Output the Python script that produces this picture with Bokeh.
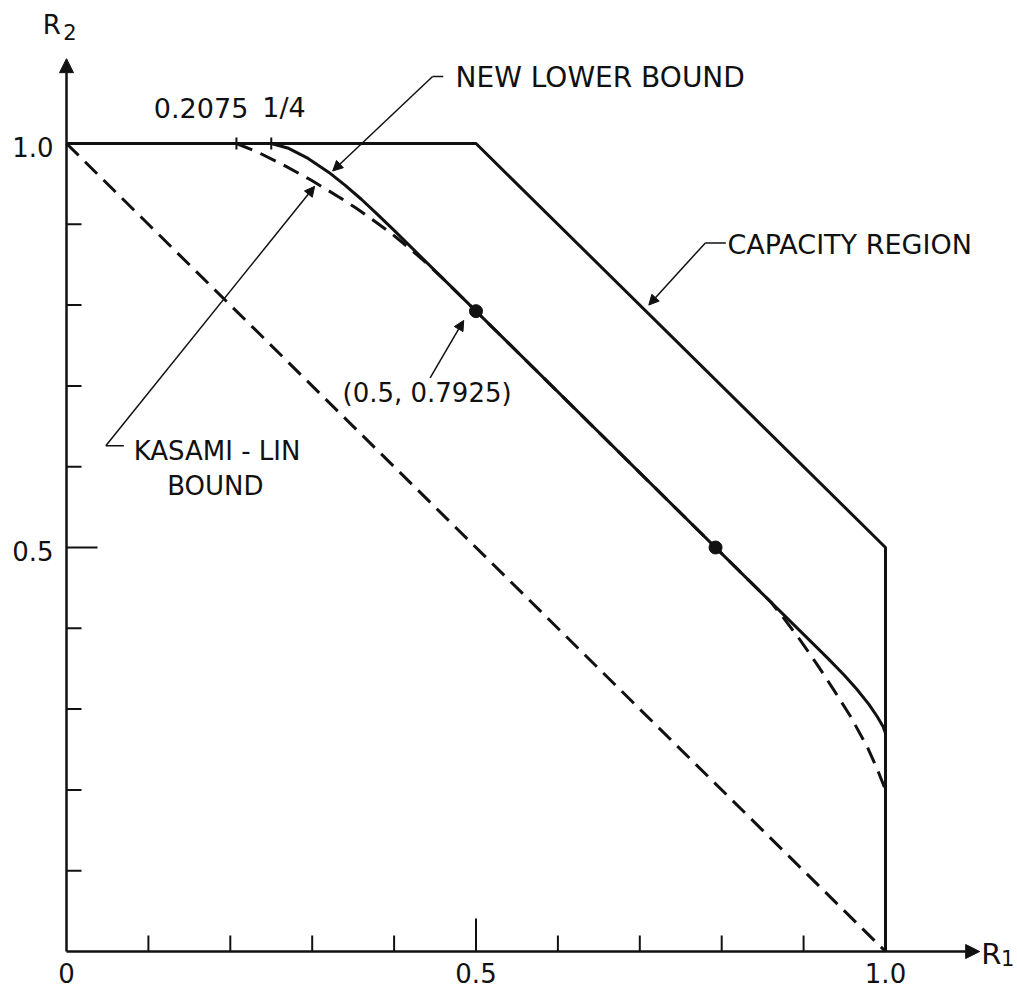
from bokeh.plotting import figure
from bokeh.models import Arrow, NormalHead
from bokeh.core.properties import value
from bokeh.embed import file_html
from bokeh.resources import INLINE

# ---------------- data ----------------
# capacity region boundary
cap_r1 = [0.0, 0.5, 1.0, 1.0]
cap_r2 = [1.0, 1.0, 0.5, 0.0]

# time-sharing line (dashed)
ts_r1 = [0.0, 1.0]
ts_r2 = [1.0, 0.0]

# Kasami-Lin bound (dashed curve)
kl_r1 = [0.2075, 0.231, 0.263, 0.299, 0.333, 0.353, 0.378, 0.398, 0.422, 0.44, 0.46,
         0.86, 0.875, 0.893, 0.917, 0.937, 0.957, 0.978, 0.99, 1.0]
kl_r2 = [1.0, 0.9905, 0.9745, 0.9545, 0.9335, 0.9205, 0.9025, 0.8875, 0.8675, 0.8515, 0.8325,
         0.4325, 0.4135, 0.3895, 0.3545, 0.3235, 0.2915, 0.2525, 0.2255, 0.2]

# new lower bound (solid curve)
nlb_r1 = [0.25, 0.27, 0.295, 0.32, 0.34, 0.36, 0.38, 0.40,
          0.93, 0.95, 0.965, 0.98, 0.99, 0.997, 1.0]
nlb_r2 = [1.0, 0.9945, 0.9815, 0.9645, 0.9485, 0.931, 0.912, 0.8925,
          0.3625, 0.3415, 0.3245, 0.3055, 0.2905, 0.2785, 0.27]

# marked points
pts_r1 = [0.5, 0.7925]
pts_r2 = [0.7925, 0.5]

# ticks on the R2 = 1 edge
top_ticks = [0.2075, 0.25]
top_tick_labels = ["0.2075", "1/4"]

# axis ticks
x_major = [0.5]
x_minor = [0.1, 0.2, 0.3, 0.4, 0.6, 0.7, 0.8, 0.9]
y_major = [0.5]
y_minor = [0.1, 0.2, 0.3, 0.4, 0.6, 0.7, 0.8, 0.9]
x_tick_vals = [0.0, 0.5, 1.0]
x_tick_labels = ["0", "0.5", "1.0"]
y_tick_vals = [1.0, 0.5]
y_tick_labels = ["1.0", "0.5"]

# ---------------- layout ----------------
W, H = 1017, 990
PX0, PY0 = 66, 951      # canvas position of the origin
SX, SY = 819.0, 808.0   # pixels per unit
FONT = value("DejaVu Sans")
INK = "#111111"

p = figure(width=W, height=H,
           x_range=(-PX0 / SX, (W - PX0) / SX),
           y_range=(-(H - PY0) / SY, PY0 / SY),
           output_backend="svg", toolbar_location=None,
           x_axis_location=None, y_axis_location=None,
           min_border=0, outline_line_color=None,
           background_fill_color="white", border_fill_color="white")
p.grid.visible = False


def label(x, y, txt, size, align="left"):
    p.text(x=[x], y=[y], text=[txt], text_font=FONT, text_font_size=size,
           text_align=align, text_baseline="middle", text_color=INK)


# axes with arrows
p.add_layout(Arrow(x_start=0, y_start=0, x_end=1.115, y_end=0, line_width=2.5, line_color=INK,
                   end=NormalHead(size=14, fill_color=INK, line_color=INK)))
p.add_layout(Arrow(x_start=0, y_start=0, x_end=0, y_end=1.105, line_width=2.5, line_color=INK,
                   end=NormalHead(size=14, fill_color=INK, line_color=INK)))

# ticks (pointing inward)
p.segment(x0=x_minor, y0=[0] * len(x_minor), x1=x_minor, y1=[16 / SY] * len(x_minor),
          line_width=2, line_color=INK)
p.segment(x0=x_major, y0=[0] * len(x_major), x1=x_major, y1=[33 / SY] * len(x_major),
          line_width=2, line_color=INK)
p.segment(x0=[0] * len(y_minor), y0=y_minor, x1=[15 / SX] * len(y_minor), y1=y_minor,
          line_width=2, line_color=INK)
p.segment(x0=[0] * len(y_major), y0=y_major, x1=[31 / SX] * len(y_major), y1=y_major,
          line_width=2, line_color=INK)

# tick labels
p.text(x=x_tick_vals, y=[-21 / SY] * 3, text=x_tick_labels, text_font=FONT,
       text_font_size="26px", text_align="center", text_baseline="middle", text_color=INK)
p.text(x=[-13 / SX] * 2, y=y_tick_vals, text=y_tick_labels, text_font=FONT,
       text_font_size="26px", text_align="right", text_baseline="middle", text_color=INK,
       y_offset=3)

# axis names
label(-0.029, 1.147, "R", "26px")
label(-0.004, 1.138, "2", "21px")
label(1.117, -0.003, "R", "29px")
label(1.141, -0.008, "1", "21px")

# curves
p.line(ts_r1, ts_r2, line_width=3, line_dash="17 9", line_color=INK)
p.line(kl_r1, kl_r2, line_width=3, line_dash="17 9", line_color=INK)
p.line(cap_r1, cap_r2, line_width=3, line_color=INK)
p.line(nlb_r1, nlb_r2, line_width=3, line_color=INK)
p.scatter(pts_r1, pts_r2, size=13, color=INK)

# small ticks on the top edge
p.segment(x0=top_ticks, y0=[1 - 6 / SY] * 2, x1=top_ticks, y1=[1 + 6 / SY] * 2,
          line_width=2, line_color=INK)
label(0.222, 1.044, top_tick_labels[0], "27px", "right")
label(0.239, 1.044, top_tick_labels[1], "27px", "left")


# annotations
def leader(x_text, y_text, x_elbow, y_elbow, x_tip, y_tip):
    p.segment(x0=[x_text], y0=[y_text], x1=[x_elbow], y1=[y_elbow], line_width=1.5, line_color=INK)
    p.add_layout(Arrow(x_start=x_elbow, y_start=y_elbow, x_end=x_tip, y_end=y_tip,
                       line_width=1.5, line_color=INK,
                       end=NormalHead(size=10, fill_color=INK, line_color=INK)))


label(0.475, 1.082, "NEW LOWER BOUND", "28px")
leader(0.460, 1.083, 0.447, 1.083, 0.325, 0.966)

label(0.807, 0.875, "CAPACITY REGION", "27px")
leader(0.805, 0.877, 0.780, 0.877, 0.711, 0.800)

label(0.082, 0.619, "KASAMI - LIN", "26px")
label(0.123, 0.576, "BOUND", "26px")
leader(0.070, 0.626, 0.048, 0.626, 0.303, 0.947)

label(0.337, 0.691, "(0.5, 0.7925)", "26px")
p.add_layout(Arrow(x_start=0.444, y_start=0.710, x_end=0.485, y_end=0.781,
                   line_width=1.5, line_color=INK,
                   end=NormalHead(size=10, fill_color=INK, line_color=INK)))

open("out.html", "w").write(file_html(p, INLINE))
